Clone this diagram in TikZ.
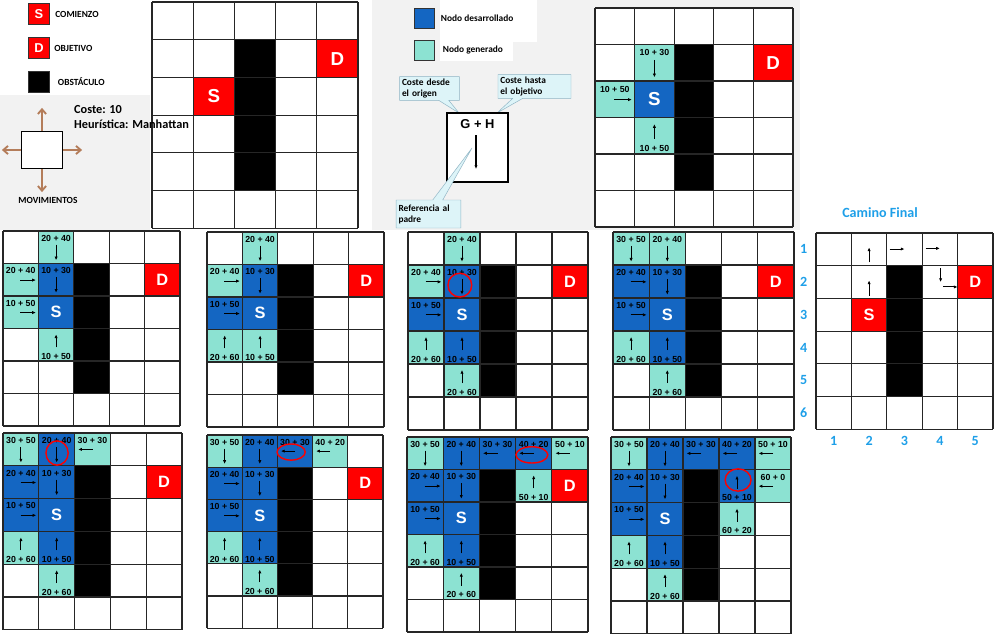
\documentclass[tikz,border=0pt]{standalone}
\usepackage{fontspec}
\setmainfont{Liberation Sans}
\newfontfamily\carlito{Carlito}
\usetikzlibrary{arrows.meta, positioning, shapes.callouts}

\definecolor{azulnodo}{HTML}{1466C2}
\definecolor{verdenodo}{HTML}{8CE2D2}
\definecolor{rojonodo}{HTML}{FF0000}
\definecolor{azulnum}{HTML}{1E9FE8}
\definecolor{marron}{HTML}{B47D5A}
\definecolor{globo}{HTML}{DDF4F8}
\definecolor{bordeglobo}{HTML}{8FB4C4}

\tikzset{
  tablero/.style n args={4}{shift={(#1,#2)}, x=#3*0.3mm, y=-#4*0.3mm,
    execute at begin scope={\fill[white] (0,0) rectangle (5,6);}},
  linea/.style={line width=1pt, draw=black!85},
  fondo/.style={fill=black!5},
  desarrollado/.style={fill=azulnodo},
  generado/.style={fill=verdenodo},
  rojo/.style={fill=rojonodo},
  valor/.style={font=\bfseries\fontsize{7.5}{8}\selectfont, inner sep=0pt},
  letra/.style={text=white, font=\bfseries\fontsize{14}{14}\selectfont, inner sep=0pt},
  flecha/.style={-{Latex[length=3.2pt,width=2.8pt]}, line width=0.8pt},
  marca/.style={draw=red, line width=1.2pt},
  leyenda/.style={font=\carlito\bfseries\fontsize{8}{9}\selectfont, inner sep=1pt},
  cuadro/.style={draw=black!80, minimum size=6.4mm, inner sep=0pt, text=white,
    font=\bfseries\fontsize{11}{11}\selectfont},
  numero/.style={text=azulnum, font=\carlito\bfseries\fontsize{12}{12}\selectfont},
  mov/.style={-{Straight Barb[length=4pt,width=7pt]}, line width=1.6pt, draw=marron},
  nota/.style={rectangle callout, fill=globo, draw=bordeglobo, align=left,
    inner sep=2pt, callout pointer width=3mm,
    font=\carlito\bfseries\fontsize{8}{9.4}\selectfont}
}

% casillas de los tableros (x: columna, y: fila)
\newcommand{\celda}[3]{\fill[#3] (#1-1,#2-1) rectangle (#1,#2);}
\newcommand{\rejilla}{%
  \fill (2,1) rectangle (3,5);
  \foreach \i in {0,...,5} \draw[linea] (\i,0) -- (\i,6);
  \foreach \j in {0,...,6} \draw[linea] (0,\j) -- (5,\j);
}
\newcommand{\abajo}[3]{%
  \node[valor] (\tabid-#1#2) at (#1-0.5,#2-0.78) {#3};
  \draw[flecha] (#1-0.5,#2-0.58) -- (#1-0.5,#2-0.1);}
\newcommand{\arriba}[3]{%
  \node[valor] (\tabid-#1#2) at (#1-0.5,#2-0.15) {#3};
  \draw[flecha] (#1-0.5,#2-0.42) -- (#1-0.5,#2-0.82);}
\newcommand{\derecha}[3]{%
  \node[valor] (\tabid-#1#2) at (#1-0.5,#2-0.78) {#3};
  \draw[flecha] (#1-0.51,#2-0.49) -- (#1-0.07,#2-0.49);}
\newcommand{\izquierda}[3]{%
  \node[valor] (\tabid-#1#2) at (#1-0.5,#2-0.78) {#3};
  \draw[flecha] (#1-0.5,#2-0.5) -- (#1-0.9,#2-0.5);}
\newcommand{\letras}{%
  \node[letra] (\tabid-S) at (1.5,2.5) {S};
  \node[letra] (\tabid-D) at (4.5,1.5) {D};}

\begin{document}
\begin{tikzpicture}[x=0.3mm, y=-0.3mm]
  \useasboundingbox (0,0) rectangle (995,636);

  % Fondos
  \fill[fondo] (0,95) rectangle (150,230);
  \fill[fondo] (372,0) rectangle (800,230);
  \fill[white] (440,0) rectangle (537,42);
  \fill[white] (440,42) rectangle (513,61);

  % Leyenda
  \node[cuadro, fill=rojonodo] (legS) at (39,14) {S};
  \node[leyenda, right=1.2mm of legS] (legStxt) {COMIENZO};
  \node[cuadro, fill=rojonodo] (legD) at (39,48) {D};
  \node[leyenda, right=0.9mm of legD] (legDtxt) {OBJETIVO};
  \node[cuadro, fill=black] (legO) at (39,82) {};
  \node[leyenda, right=2mm of legO] (legOtxt) {OBSTÁCULO};

  \node[draw, fill=white, line width=1pt, minimum width=12.3mm, minimum height=11.1mm] (movi) at (42,150) {};
  \draw[mov] (movi.north) -- +(0,-23);
  \draw[mov] (movi.south) -- +(0,23);
  \draw[mov] (movi.west) -- +(-19,0);
  \draw[mov] (movi.east) -- +(19,0);
  \node[leyenda] (movtxt) at (48,200) {MOVIMIENTOS};

  % Nodos
  \node[draw=black!80, fill=azulnodo, minimum size=6mm, inner sep=0pt] (legA) at (424,18.5) {};
  \node[leyenda, right=1.6mm of legA] (legAtxt) {Nodo desarrollado};
  \node[draw=black!80, fill=verdenodo, minimum size=6mm, inner sep=0pt] (legV) at (424,50.5) {};
  \node[leyenda, right=2.2mm of legV] (legVtxt) {Nodo generado};

  % Caja G + H
  \coordinate (puntaG) at (459,113);
  \coordinate (puntaH) at (497,113);
  \coordinate (puntaP) at (472,148);
  \node[nota, text width=16.5mm, minimum height=6.9mm, callout absolute pointer={(puntaG)}] (origen) at (429.5,88.5) {Coste desde\\el origen};
  \node[nota, text width=20.5mm, minimum height=6.9mm, callout absolute pointer={(puntaH)}] (objetivo) at (534.5,86.5) {Coste hasta\\el objetivo};
  \node[draw, fill=white, line width=1pt, minimum width=18.3mm, minimum height=20.7mm] (caja) at (477.5,147.5) {};
  \node[font=\bfseries\fontsize{11}{11}\selectfont, below=0.8mm of caja.north] (gh) {G + H};
  \draw[flecha, line width=1pt] (476,135) -- (476,169);
  \node[nota, text width=18mm, minimum height=8.4mm, callout absolute pointer={(puntaP)}] (padre) at (428.5,214) {Referencia al\\padre};

  % Estado inicial
  \begin{scope}[tablero={152}{2}{41.2}{37.7}, letra/.append style={font=\bfseries\fontsize{16}{16}\selectfont}]
    \def\tabid{ini}
    \celda{2}{3}{rojo} \celda{5}{2}{rojo}
    \rejilla
    \letras
  \end{scope}
  \node[anchor=west, align=left, font=\carlito\bfseries\fontsize{10.5}{12}\selectfont] (coste) at (70,117) {Coste: 10\\Heurística: Manhattan};

  % Paso 1
  \begin{scope}[tablero={595}{8}{39.6}{36.5}, letra/.append style={font=\bfseries\fontsize{16}{16}\selectfont}]
    \def\tabid{p1}
    \celda{2}{3}{desarrollado}
    \celda{2}{2}{generado} \celda{1}{3}{generado} \celda{2}{4}{generado}
    \celda{5}{2}{rojo}
    \rejilla
    \letras
    \abajo{2}{2}{10 + 30}
    \derecha{1}{3}{10 + 50}
    \arriba{2}{4}{10 + 50}
  \end{scope}

  % Paso 2
  \begin{scope}[tablero={3}{231}{35.4}{32.5}]
    \def\tabid{p2}
    \celda{2}{3}{desarrollado} \celda{2}{2}{desarrollado}
    \celda{2}{1}{generado} \celda{1}{2}{generado} \celda{1}{3}{generado} \celda{2}{4}{generado}
    \celda{5}{2}{rojo}
    \rejilla
    \letras
    \abajo{2}{1}{20 + 40}
    \derecha{1}{2}{20 + 40}
    \abajo{2}{2}{10 + 30}
    \derecha{1}{3}{10 + 50}
    \arriba{2}{4}{10 + 50}
  \end{scope}

  % Paso 3
  \begin{scope}[tablero={207}{232}{35.4}{32.5}]
    \def\tabid{p3}
    \celda{2}{3}{desarrollado} \celda{2}{2}{desarrollado} \celda{1}{3}{desarrollado}
    \celda{2}{1}{generado} \celda{1}{2}{generado} \celda{1}{4}{generado} \celda{2}{4}{generado}
    \celda{5}{2}{rojo}
    \rejilla
    \letras
    \abajo{2}{1}{20 + 40}
    \derecha{1}{2}{20 + 40}
    \abajo{2}{2}{10 + 30}
    \derecha{1}{3}{10 + 50}
    \arriba{1}{4}{20 + 60}
    \arriba{2}{4}{10 + 50}
  \end{scope}

  % Paso 4
  \begin{scope}[tablero={408}{232}{36}{33}]
    \def\tabid{p4}
    \celda{2}{3}{desarrollado} \celda{2}{2}{desarrollado} \celda{1}{3}{desarrollado} \celda{2}{4}{desarrollado}
    \celda{2}{1}{generado} \celda{1}{2}{generado} \celda{1}{4}{generado} \celda{2}{5}{generado}
    \celda{5}{2}{rojo}
    \rejilla
    \letras
    \abajo{2}{1}{20 + 40}
    \derecha{1}{2}{20 + 40}
    \abajo{2}{2}{10 + 30}
    \derecha{1}{3}{10 + 50}
    \arriba{1}{4}{20 + 60}
    \arriba{2}{4}{10 + 50}
    \arriba{2}{5}{20 + 60}
    \draw[marca] (1.44,1.61) ellipse (0.33 and 0.36);
  \end{scope}

  % Paso 5
  \begin{scope}[tablero={613}{232}{36.2}{33}]
    \def\tabid{p5}
    \celda{2}{3}{desarrollado} \celda{2}{2}{desarrollado} \celda{1}{3}{desarrollado} \celda{2}{4}{desarrollado} \celda{1}{2}{desarrollado}
    \celda{1}{1}{generado} \celda{2}{1}{generado} \celda{1}{4}{generado} \celda{2}{5}{generado}
    \celda{5}{2}{rojo}
    \rejilla
    \letras
    \abajo{1}{1}{30 + 50}
    \abajo{2}{1}{20 + 40}
    \derecha{1}{2}{20 + 40}
    \abajo{2}{2}{10 + 30}
    \derecha{1}{3}{10 + 50}
    \arriba{1}{4}{20 + 60}
    \arriba{2}{4}{10 + 50}
    \arriba{2}{5}{20 + 60}
  \end{scope}

  % Paso 6
  \begin{scope}[tablero={3}{433}{35.8}{32.8}]
    \def\tabid{p6}
    \celda{2}{3}{desarrollado} \celda{2}{2}{desarrollado} \celda{1}{3}{desarrollado} \celda{2}{4}{desarrollado} \celda{1}{2}{desarrollado} \celda{2}{1}{desarrollado}
    \celda{1}{1}{generado} \celda{3}{1}{generado} \celda{1}{4}{generado} \celda{2}{5}{generado}
    \celda{5}{2}{rojo}
    \rejilla
    \letras
    \abajo{1}{1}{30 + 50}
    \abajo{2}{1}{20 + 40}
    \izquierda{3}{1}{30 + 30}
    \derecha{1}{2}{20 + 40}
    \abajo{2}{2}{10 + 30}
    \derecha{1}{3}{10 + 50}
    \arriba{1}{4}{20 + 60}
    \arriba{2}{4}{10 + 50}
    \arriba{2}{5}{20 + 60}
    \draw[marca] (1.51,0.61) ellipse (0.31 and 0.37);
  \end{scope}

  % Paso 7
  \begin{scope}[tablero={207}{435}{35.2}{32.2}]
    \def\tabid{p7}
    \celda{2}{3}{desarrollado} \celda{2}{2}{desarrollado} \celda{1}{3}{desarrollado} \celda{2}{4}{desarrollado} \celda{1}{2}{desarrollado} \celda{2}{1}{desarrollado} \celda{3}{1}{desarrollado}
    \celda{1}{1}{generado} \celda{4}{1}{generado} \celda{1}{4}{generado} \celda{2}{5}{generado}
    \celda{5}{2}{rojo}
    \rejilla
    \letras
    \abajo{1}{1}{30 + 50}
    \abajo{2}{1}{20 + 40}
    \izquierda{3}{1}{30 + 30}
    \izquierda{4}{1}{40 + 20}
    \derecha{1}{2}{20 + 40}
    \abajo{2}{2}{10 + 30}
    \derecha{1}{3}{10 + 50}
    \arriba{1}{4}{20 + 60}
    \arriba{2}{4}{10 + 50}
    \arriba{2}{5}{20 + 60}
    \draw[marca] (2.39,0.53) ellipse (0.4 and 0.25);
  \end{scope}

  % Paso 8
  \begin{scope}[tablero={407}{437}{36.2}{32.5}]
    \def\tabid{p8}
    \celda{2}{3}{desarrollado} \celda{2}{2}{desarrollado} \celda{1}{3}{desarrollado} \celda{2}{4}{desarrollado} \celda{1}{2}{desarrollado} \celda{2}{1}{desarrollado} \celda{3}{1}{desarrollado} \celda{4}{1}{desarrollado}
    \celda{1}{1}{generado} \celda{5}{1}{generado} \celda{4}{2}{generado} \celda{1}{4}{generado} \celda{2}{5}{generado}
    \celda{5}{2}{rojo}
    \rejilla
    \letras
    \abajo{1}{1}{30 + 50}
    \abajo{2}{1}{20 + 40}
    \izquierda{3}{1}{30 + 30}
    \izquierda{4}{1}{40 + 20}
    \izquierda{5}{1}{50 + 10}
    \derecha{1}{2}{20 + 40}
    \abajo{2}{2}{10 + 30}
    \arriba{4}{2}{50 + 10}
    \derecha{1}{3}{10 + 50}
    \arriba{1}{4}{20 + 60}
    \arriba{2}{4}{10 + 50}
    \arriba{2}{5}{20 + 60}
    \draw[marca] (3.45,0.55) ellipse (0.44 and 0.25);
  \end{scope}

  % Paso 9
  \begin{scope}[tablero={611}{437}{36}{32.8}]
    \def\tabid{p9}
    \celda{2}{3}{desarrollado} \celda{2}{2}{desarrollado} \celda{1}{3}{desarrollado} \celda{2}{4}{desarrollado} \celda{1}{2}{desarrollado} \celda{2}{1}{desarrollado} \celda{3}{1}{desarrollado} \celda{4}{1}{desarrollado} \celda{4}{2}{desarrollado}
    \celda{1}{1}{generado} \celda{5}{1}{generado} \celda{5}{2}{generado} \celda{4}{3}{generado} \celda{1}{4}{generado} \celda{2}{5}{generado}
    \rejilla
    \node[letra] (p9-S) at (1.5,2.5) {S};
    \abajo{1}{1}{30 + 50}
    \abajo{2}{1}{20 + 40}
    \izquierda{3}{1}{30 + 30}
    \izquierda{4}{1}{40 + 20}
    \izquierda{5}{1}{50 + 10}
    \derecha{1}{2}{20 + 40}
    \abajo{2}{2}{10 + 30}
    \arriba{4}{2}{50 + 10}
    \izquierda{5}{2}{60 + 0}
    \derecha{1}{3}{10 + 50}
    \arriba{4}{3}{60 + 20}
    \arriba{1}{4}{20 + 60}
    \arriba{2}{4}{10 + 50}
    \arriba{2}{5}{20 + 60}
    \draw[marca] (3.53,1.31) ellipse (0.36 and 0.34);
  \end{scope}

  % Camino final
  \begin{scope}[tablero={816}{233}{35.4}{32.7}]
    \def\tabid{fin}
    \celda{2}{3}{rojo} \celda{5}{2}{rojo}
    \rejilla
    \letras
    \draw[flecha] (1.5,1.92) -- (1.5,1.45);
    \draw[flecha] (1.5,0.9) -- (1.5,0.44);
    \draw[flecha] (2.08,0.49) -- (2.5,0.49);
    \draw[flecha] (3.1,0.47) -- (3.5,0.47);
    \draw[flecha] (3.52,1.08) -- (3.52,1.5);
    \draw[flecha] (3.6,1.65) -- (4,1.65);
    \foreach \r in {1,...,6} \node[numero] (fila\r) at (-0.35,\r-0.5) {\r};
    \foreach \c in {1,...,5} \node[numero] (col\c) at (\c-0.5,6.35) {\c};
  \end{scope}
  \node[numero] (titulo) at (880,213) {Camino Final};
\end{tikzpicture}
\end{document}
